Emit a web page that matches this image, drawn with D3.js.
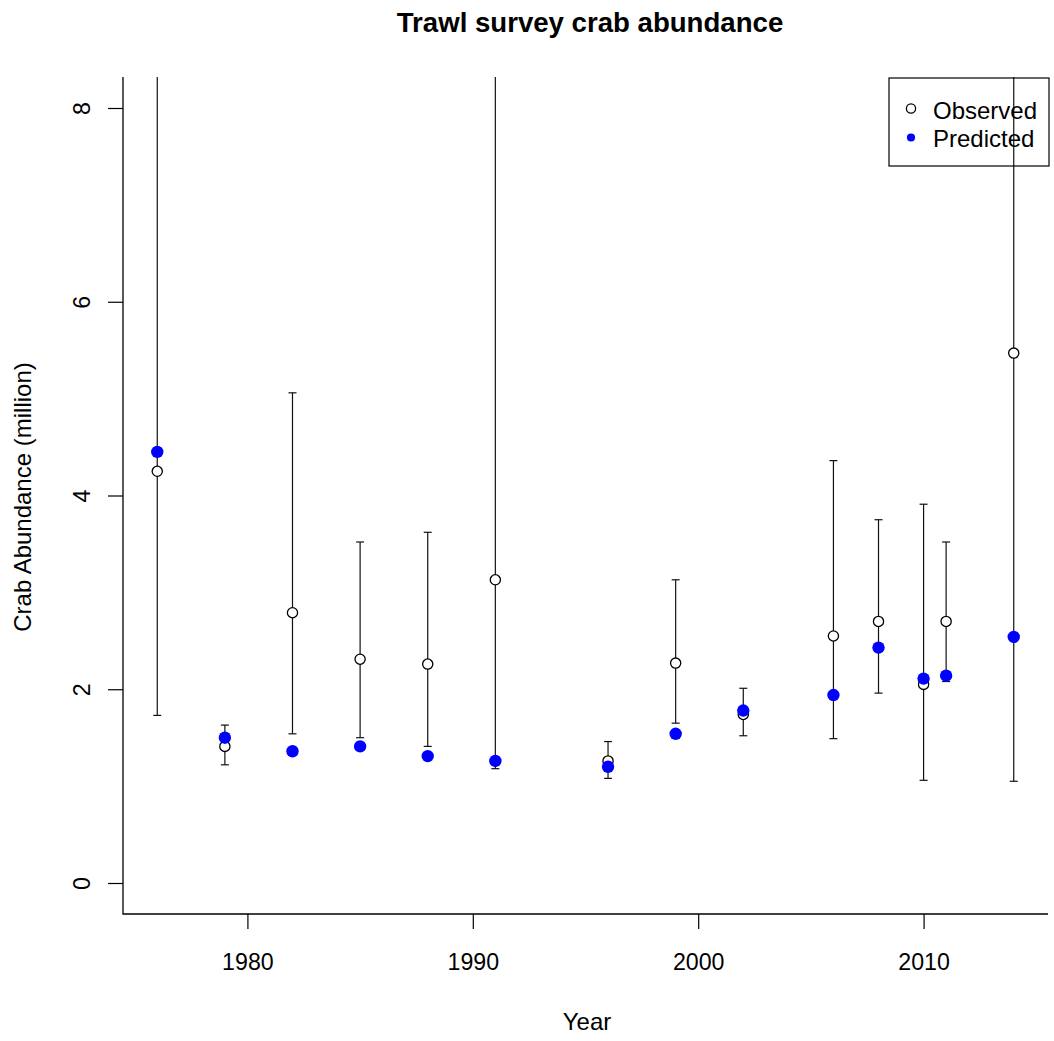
<!DOCTYPE html>
<html>
<head>
<meta charset="utf-8">
<script src="https://cdn.jsdelivr.net/npm/d3@7"></script>
<style>
  html, body { margin: 0; padding: 0; background: #fff; }
  svg { display: block; font-family: "Liberation Sans", Arial, sans-serif; }
</style>
</head>
<body>
<svg id="chart" width="1054" height="1041"></svg>
<script>
// Survey years and abundance estimates (million crabs)
const years     = [1976, 1979, 1982, 1985, 1988, 1991, 1996, 1999, 2002, 2006, 2008, 2010, 2011, 2014];
const observed  = [4.25, 1.41, 2.79, 2.31, 2.26, 3.13, 1.26, 2.27, 1.74, 2.55, 2.70, 2.05, 2.70, 5.47];
const predicted = [4.45, 1.50, 1.36, 1.41, 1.31, 1.26, 1.20, 1.54, 1.78, 1.94, 2.43, 2.11, 2.14, 2.54];
// 95% interval bounds of the observed values
const lower     = [1.73, 1.22, 1.54, 1.50, 1.41, 1.18, 1.08, 1.65, 1.52, 1.49, 1.96, 1.06, 2.08, 1.05];
const upper     = [10.44, 1.63, 5.06, 3.52, 3.62, 8.36, 1.46, 3.13, 2.01, 4.36, 3.75, 3.91, 3.52, 28.5];

const xTicks = [1980, 1990, 2000, 2010];
const yTicks = [0, 2, 4, 6, 8];
const legendLabels = ["Observed", "Predicted"];

const svg = d3.select("#chart");
const plot = { left: 123, right: 1048, top: 77, bottom: 914 };

// Axis ranges padded by 4% of the data range on each side
const xr = [1976, 2014], yr = [0, 8];
const xp = (xr[1] - xr[0]) * 0.04, yp = (yr[1] - yr[0]) * 0.04;
const x = d3.scaleLinear().domain([xr[0] - xp, xr[1] + xp]).range([plot.left, plot.right]);
const y = d3.scaleLinear().domain([yr[0] - yp, yr[1] + yp]).range([plot.bottom, plot.top]);

const tickFont = 23.2;
const labelFont = 24;

svg.append("defs").append("clipPath").attr("id", "plotClip")
  .append("rect")
  .attr("x", plot.left).attr("y", plot.top)
  .attr("width", plot.right - plot.left).attr("height", plot.bottom - plot.top);

// Title
svg.append("text")
  .attr("x", 590).attr("y", 32)
  .attr("text-anchor", "middle")
  .attr("font-size", 27.6).attr("font-weight", "bold")
  .text("Trawl survey crab abundance");

// X axis
const xAxis = svg.append("g")
  .attr("transform", `translate(0,${plot.bottom})`)
  .call(d3.axisBottom(x).tickValues(xTicks).tickSize(15).tickPadding(0).tickFormat(d3.format("d")));
xAxis.select(".domain").remove();
xAxis.selectAll(".tick line").attr("stroke", "#000").attr("stroke-width", 1.2);
xAxis.selectAll(".tick text")
  .attr("font-size", tickFont).attr("fill", "#000")
  .attr("font-family", "Liberation Sans, Arial, sans-serif")
  .attr("dy", null).attr("y", 56);

// Y axis with labels parallel to the axis
const yAxis = svg.append("g")
  .attr("transform", `translate(${plot.left},0)`)
  .call(d3.axisLeft(y).tickValues(yTicks).tickSize(15).tickFormat(d3.format("d")));
yAxis.select(".domain").remove();
yAxis.selectAll(".tick line").attr("stroke", "#000").attr("stroke-width", 1.2);
yAxis.selectAll(".tick text")
  .attr("font-size", tickFont).attr("fill", "#000")
  .attr("font-family", "Liberation Sans, Arial, sans-serif")
  .attr("x", null).attr("dy", null)
  .attr("text-anchor", "middle")
  .attr("transform", "translate(-33,0) rotate(-90)");

// L-shaped frame
svg.append("path")
  .attr("d", `M${plot.left},${plot.top}V${plot.bottom}H${plot.right}`)
  .attr("fill", "none").attr("stroke", "#000").attr("stroke-width", 1.3);

// Axis titles
svg.append("text")
  .attr("x", 587).attr("y", 1030)
  .attr("text-anchor", "middle").attr("font-size", labelFont)
  .text("Year");
svg.append("text")
  .attr("transform", `translate(31,497) rotate(-90)`)
  .attr("text-anchor", "middle").attr("font-size", labelFont)
  .text("Crab Abundance (million)");

const rows = years.map((yr, i) => ({
  year: yr, obs: observed[i], pred: predicted[i], lo: lower[i], hi: upper[i]
}));

const marks = svg.append("g").attr("clip-path", "url(#plotClip)");

// Interval whiskers with end caps
const capHalf = 4;
const bars = marks.append("g").attr("stroke", "#111").attr("stroke-width", 1.2).attr("fill", "none");
bars.selectAll("line.stem").data(rows).join("line").attr("class", "stem")
  .attr("x1", d => x(d.year)).attr("x2", d => x(d.year))
  .attr("y1", d => y(d.lo)).attr("y2", d => y(d.hi));
bars.selectAll("line.capLo").data(rows).join("line").attr("class", "capLo")
  .attr("x1", d => x(d.year) - capHalf).attr("x2", d => x(d.year) + capHalf)
  .attr("y1", d => y(d.lo)).attr("y2", d => y(d.lo));
bars.selectAll("line.capHi").data(rows).join("line").attr("class", "capHi")
  .attr("x1", d => x(d.year) - capHalf).attr("x2", d => x(d.year) + capHalf)
  .attr("y1", d => y(d.hi)).attr("y2", d => y(d.hi));

// Observed values: open circles
marks.selectAll("circle.obs").data(rows).join("circle").attr("class", "obs")
  .attr("cx", d => x(d.year)).attr("cy", d => y(d.obs)).attr("r", 5.1)
  .attr("fill", "#fff").attr("stroke", "#000").attr("stroke-width", 1.3);

// Predicted values: filled blue dots
marks.selectAll("circle.pred").data(rows).join("circle").attr("class", "pred")
  .attr("cx", d => x(d.year)).attr("cy", d => y(d.pred)).attr("r", 6.2)
  .attr("fill", "#0000ff");

// Legend
const lg = svg.append("g");
lg.append("rect")
  .attr("x", 889).attr("y", 78).attr("width", 160).attr("height", 88)
  .attr("fill", "none").attr("stroke", "#000").attr("stroke-width", 1.2);
lg.append("circle").attr("cx", 911).attr("cy", 108.5).attr("r", 4.6)
  .attr("fill", "none").attr("stroke", "#000").attr("stroke-width", 1.3);
lg.append("circle").attr("cx", 911).attr("cy", 137.5).attr("r", 4.1)
  .attr("fill", "#0000ff");
lg.selectAll("text").data(legendLabels).join("text")
  .attr("x", 933).attr("y", (d, i) => 119 + i * 28)
  .attr("font-size", labelFont)
  .text(d => d);
</script>
</body>
</html>
